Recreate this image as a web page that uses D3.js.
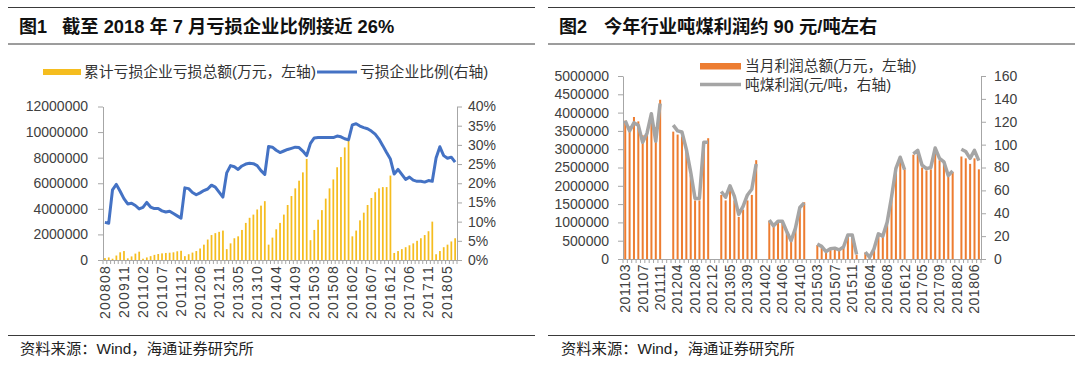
<!DOCTYPE html>
<html><head><meta charset="utf-8">
<script src="https://cdn.jsdelivr.net/npm/d3@7"></script>
<style>body{margin:0;background:#fff}svg{display:block}</style>
</head><body><svg id="c" width="1080" height="367"></svg>
<script>
// ---------- Chart 1 data ----------
const lossCats = ["200808","200811","200902","200905","200908","200911","201002","201005","201008","201011",
"201102","201103","201104","201105","201106","201107","201108","201109","201110","201111","201112",
"201202","201203","201204","201205","201206","201207","201208","201209","201210","201211","201212",
"201302","201303","201304","201305","201306","201307","201308","201309","201310","201311","201312",
"201402","201403","201404","201405","201406","201407","201408","201409","201410","201411","201412",
"201502","201503","201504","201505","201506","201507","201508","201509","201510","201511","201512",
"201602","201603","201604","201605","201606","201607","201608","201609","201610","201611","201612",
"201702","201703","201704","201705","201706","201707","201708","201709","201710","201711","201712",
"201802","201803","201804","201805","201806","201807"];
const lossAmount = [150000,200000,100000,350000,600000,700000,130000,280000,500000,650000,
100000,200000,300000,400000,470000,520000,550000,570000,600000,680000,720000,
300000,450000,580000,700000,900000,1200000,1600000,1950000,2100000,2200000,2300000,
850000,1300000,1700000,1850000,2350000,2900000,3300000,3550000,3950000,4250000,4600000,
1200000,1750000,2400000,2900000,3550000,4300000,5000000,5600000,6200000,6850000,7900000,
1550000,2350000,3150000,3900000,4800000,5600000,6300000,7250000,8050000,8800000,9300000,
1850000,2300000,3100000,3700000,4300000,4850000,5300000,5600000,5700000,5700000,6600000,
550000,700000,850000,1000000,1150000,1300000,1500000,1700000,1950000,2250000,3000000,
450000,700000,1000000,1200000,1450000,1700000];
const lossRatio = [9.8,9.6,18.3,19.7,17.9,16.0,14.6,14.8,14.2,13.3,
13.7,15.0,13.8,13.4,13.4,12.8,12.5,12.7,12.1,11.5,10.9,
18.8,18.6,17.6,17.0,17.5,18.1,18.5,19.5,19.0,17.7,16.4,
22.7,24.6,24.3,23.6,24.5,25.0,25.2,25.1,24.6,23.3,22.3,
29.6,29.4,28.6,28.0,28.4,28.8,29.1,29.4,29.3,28.4,27.2,
30.4,31.8,31.9,31.9,31.9,31.9,31.9,32.3,32.1,31.6,31.3,
35.2,35.5,34.9,34.5,34.2,33.6,32.8,31.5,29.8,28.0,26.3,
22.4,23.6,22.3,21.0,21.6,20.8,20.5,20.5,20.3,20.7,20.5,
26.6,29.5,27.2,26.5,26.8,25.5];
const lossXLabels = ["200808","200911","201102","201107","201112","201206","201211","201305","201310","201404","201409","201503","201508","201602","201607","201612","201706","201711","201805"];
const lossLeftTicks = [0,2000000,4000000,6000000,8000000,10000000,12000000];
const lossRightTicks = [0,5,10,15,20,25,30,35,40];

// ---------- Chart 2 data ----------
const coalCats = ["201103","201104","201105","201106","201107","201108","201109","201110","201111","201112",
"201202","201203","201204","201205","201206","201207","201208","201209","201210","201211","201212",
"201302","201303","201304","201305","201306","201307","201308","201309","201310","201311","201312",
"201402","201403","201404","201405","201406","201407","201408","201409","201410","201411","201412",
"201502","201503","201504","201505","201506","201507","201508","201509","201510","201511","201512",
"201602","201603","201604","201605","201606","201607","201608","201609","201610","201611","201612",
"201702","201703","201704","201705","201706","201707","201708","201709","201710","201711","201712",
"201802","201803","201804","201805","201806","201807"];
const coalProfit = [3780000,3620000,3880000,3760000,3380000,3550000,3950000,3600000,4350000,null,
null,3480000,3400000,3350000,2950000,2300000,1600000,1600000,3200000,3300000,null,
null,1750000,1600000,1950000,1600000,1150000,1350000,1600000,1750000,2700000,null,
null,1050000,950000,1000000,1000000,750000,500000,850000,1400000,1550000,null,
null,380000,330000,200000,300000,300000,250000,330000,620000,600000,120000,
null,180000,50000,300000,650000,600000,950000,1650000,2450000,2750000,2450000,
null,2850000,2900000,2500000,2420000,2450000,2900000,2700000,2600000,2250000,2380000,
null,2800000,2750000,2600000,2750000,2450000];
const coalPerTon = [121,112,119,117,102,110,127,103,136,null,
null,117,112,111,96,76,53,53,102,102,null,
null,59,54,64,55,39,46,56,61,83,null,
null,34,29,33,33,24,16,27,45,49,null,
null,13,11,6.5,9,9.5,8,10.5,21,21,4,
null,6,1.5,9,22,20,32,54,79,89,78,
null,92,95,82,79,80,97,88,85,73,77,
null,96,94,88,95,86];
const coalXLabels = ["201103","201107","201111","201204","201208","201212","201305","201309","201402","201406","201410","201503","201507","201511","201604","201608","201612","201705","201709","201802","201806"];
const coalLeftTicks = [0,500000,1000000,1500000,2000000,2500000,3000000,3500000,4000000,4500000,5000000];
const coalRightTicks = [0,20,40,60,80,100,120,140,160];

// ---------- drawing ----------
const svg = d3.select("#c");
const NUM = "'Liberation Sans', Arial, sans-serif";
const CJK = "'Liberation Sans','Noto Sans CJK SC', sans-serif";
const AXC = "#A6A6A6", TXT = "#404040";

function panel(x0, x1, num, titleX, title, srcX) {
  const g = svg.append("g");
  [7.5, 44, 335.5].forEach(y => g.append("line").attr("x1", x0).attr("x2", x1).attr("y1", y).attr("y2", y)
    .attr("stroke", "#3a3a3a").attr("stroke-width", 1));
  g.append("text").attr("x", x0 + 11).attr("y", 33).text(num)
    .attr("font-family", CJK).attr("font-weight", "bold").attr("font-size", 18).attr("fill", "#111");
  g.append("text").attr("x", titleX).attr("y", 33).text(title)
    .attr("font-family", CJK).attr("font-weight", "bold").attr("font-size", 18.3).attr("fill", "#111");
  g.append("text").attr("x", srcX).attr("y", 354).text("资料来源：Wind，海通证券研究所")
    .attr("font-family", CJK).attr("font-size", 15.3).attr("fill", "#222");
}
panel(8, 535, "图1", 62, "截至 2018 年 7 月亏损企业比例接近 26%", 20);
panel(548, 1075, "图2", 604, "今年行业吨煤利润约 90 元/吨左右", 561);

function styleAxis(sel, fs) {
  sel.select(".domain").attr("stroke", AXC);
  sel.selectAll(".tick line").attr("stroke", AXC);
  sel.selectAll("text").attr("font-family", NUM).attr("font-size", fs).attr("fill", TXT);
}

function catAxis(g, x, cats, labels, y0, ls) {
  const ax = g.append("g").attr("transform", `translate(0,${y0})`)
    .call(d3.axisBottom(x).tickValues(labels).tickSize(0).tickSizeOuter(0));
  styleAxis(ax, 14);
  ax.selectAll(".tick text").attr("x", 0).attr("y", 0).attr("dy", "0.35em")
    .attr("text-anchor", "end").attr("letter-spacing", ls)
    .attr("transform", "translate(0,5) rotate(-90)");
  const edges = cats.map(c => x(c)).concat([x.range()[1]]);
  g.append("g").selectAll("line").data(edges).join("line")
    .attr("x1", d => d).attr("x2", d => d).attr("y1", y0).attr("y2", y0 + 4)
    .attr("stroke", AXC).attr("stroke-width", 1);
}

// ---- Chart 1 ----
{
  const g = svg.append("g");
  const x = d3.scaleBand().domain(lossCats).range([103, 457]);
  const yL = d3.scaleLinear().domain([0, 12000000]).range([260, 106.5]);
  const yR = d3.scaleLinear().domain([0, 40]).range([260, 106.5]);
  const bw = x.bandwidth();
  g.append("g").selectAll("rect").data(lossCats).join("rect")
    .attr("x", (c) => x(c) + bw * 0.28).attr("width", bw * 0.46)
    .attr("y", (c, i) => yL(lossAmount[i])).attr("height", (c, i) => yL(0) - yL(lossAmount[i]))
    .attr("fill", "#F5BD1F");
  const aL = g.append("g").attr("transform", "translate(103,0)")
    .call(d3.axisLeft(yL).tickValues(lossLeftTicks).tickSize(5).tickSizeOuter(0).tickPadding(10).tickFormat(d3.format("d")));
  styleAxis(aL, 14);
  const aR = g.append("g").attr("transform", "translate(457,0)")
    .call(d3.axisRight(yR).tickValues(lossRightTicks).tickSize(5).tickSizeOuter(0).tickPadding(6).tickFormat(d => d + "%"));
  styleAxis(aR, 14);
  catAxis(g, x, lossCats, lossXLabels, 260, 1.2);
  g.append("path").datum(lossRatio)
    .attr("d", d3.line().x((d, i) => x(lossCats[i]) + bw / 2).y(d => yR(d)))
    .attr("fill", "none").attr("stroke", "#4472C4").attr("stroke-width", 3).attr("stroke-linejoin", "round");
  // legend
  g.append("rect").attr("x", 43).attr("y", 69).attr("width", 38).attr("height", 6).attr("fill", "#F5BD1F");
  g.append("text").attr("x", 84).attr("y", 77).text("累计亏损企业亏损总额(万元，左轴)")
    .attr("font-family", CJK).attr("font-size", 14.8).attr("fill", "#333");
  g.append("line").attr("x1", 317).attr("x2", 357).attr("y1", 72).attr("y2", 72).attr("stroke", "#4472C4").attr("stroke-width", 3);
  g.append("text").attr("x", 360).attr("y", 77).text("亏损企业比例(右轴)")
    .attr("font-family", CJK).attr("font-size", 14.8).attr("fill", "#333");
}

// ---- Chart 2 ----
{
  const g = svg.append("g");
  const x = d3.scaleBand().domain(coalCats).range([623, 981]);
  const yL = d3.scaleLinear().domain([0, 5000000]).range([259, 76]);
  const yR = d3.scaleLinear().domain([0, 160]).range([259, 76]);
  const bw = x.bandwidth();
  g.append("g").selectAll("rect").data(coalCats.filter((c, i) => coalProfit[i] != null)).join("rect")
    .attr("x", c => x(c) + bw * 0.28).attr("width", bw * 0.46)
    .attr("y", c => yL(coalProfit[coalCats.indexOf(c)]))
    .attr("height", c => yL(0) - yL(coalProfit[coalCats.indexOf(c)]))
    .attr("fill", "#ED7D31");
  const aL = g.append("g").attr("transform", "translate(623,0)")
    .call(d3.axisLeft(yL).tickValues(coalLeftTicks).tickSize(5).tickSizeOuter(0).tickPadding(9).tickFormat(d3.format("d")));
  styleAxis(aL, 14);
  const aR = g.append("g").attr("transform", "translate(981,0)")
    .call(d3.axisRight(yR).tickValues(coalRightTicks).tickSize(5).tickSizeOuter(0).tickPadding(8).tickFormat(d3.format("d")));
  styleAxis(aR, 14);
  catAxis(g, x, coalCats, coalXLabels, 259, 0.5);
  g.append("path").datum(coalPerTon)
    .attr("d", d3.line().defined(d => d != null).x((d, i) => x(coalCats[i]) + bw / 2).y(d => yR(d)))
    .attr("fill", "none").attr("stroke", "#A5A5A5").attr("stroke-width", 3.5).attr("stroke-linejoin", "round");
  // legend
  g.append("rect").attr("x", 700).attr("y", 63).attr("width", 41).attr("height", 6.5).attr("fill", "#ED7D31");
  g.append("text").attr("x", 745).attr("y", 71).text("当月利润总额(万元，左轴)")
    .attr("font-family", CJK).attr("font-size", 14.7).attr("fill", "#333");
  g.append("line").attr("x1", 700).attr("x2", 741).attr("y1", 84.5).attr("y2", 84.5).attr("stroke", "#A5A5A5").attr("stroke-width", 3.5);
  g.append("text").attr("x", 745).attr("y", 89.5).text("吨煤利润(元/吨，右轴)")
    .attr("font-family", CJK).attr("font-size", 14.7).attr("fill", "#333");
}
</script></body></html>
